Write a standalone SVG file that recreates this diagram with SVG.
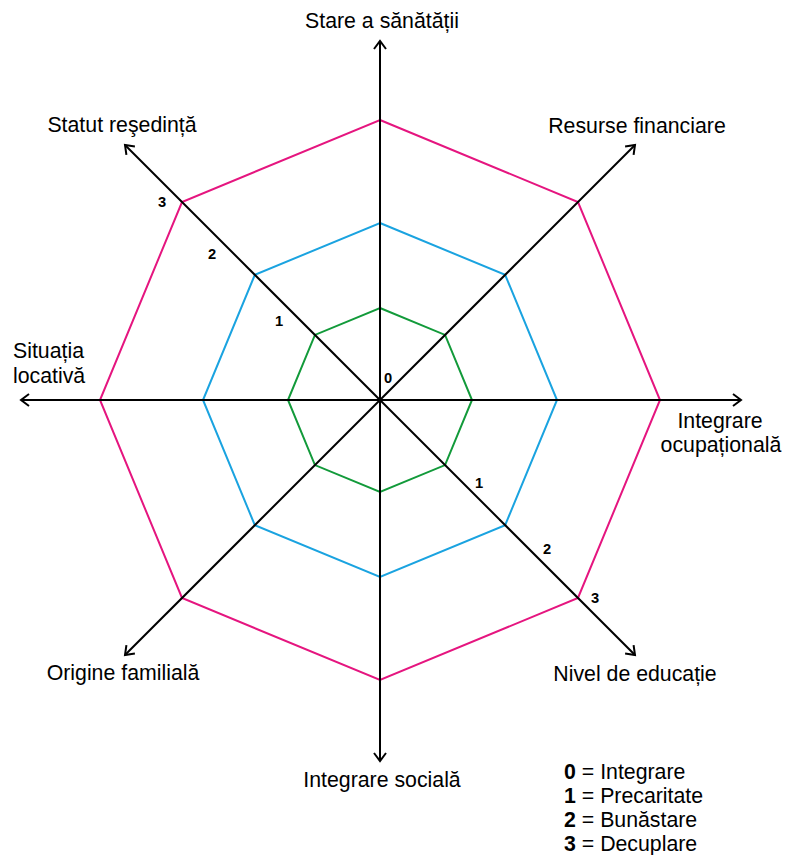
<svg xmlns="http://www.w3.org/2000/svg" width="798" height="855" viewBox="0 0 798 855">
<style>
.ax{stroke:#000;stroke-width:2;fill:none;marker-end:url(#arr)}
.oct{fill:none;stroke-width:2;stroke-linejoin:miter}
.lbl{font-family:"Liberation Sans",Arial,sans-serif;font-size:21.3px;fill:#000}
.num{font-family:"Liberation Sans",Arial,sans-serif;font-size:14.7px;font-weight:bold;fill:#000;text-anchor:middle}
.b{font-weight:bold}
</style>
<defs>
<marker id="arr" markerUnits="userSpaceOnUse" markerWidth="20" markerHeight="20" refX="0" refY="0" viewBox="-12 -10 14 20" orient="auto">
<path d="M-8,-6 L0,0 L-8,6" fill="none" stroke="#000" stroke-width="2"/>
</marker>
</defs>
<rect width="798" height="855" fill="#fff"/>
<g id="octagons">
<polygon id="oct3" class="oct" stroke="#e5157f" points="380,120 577.99,202.01 660,400 577.99,597.99 380,680 182.01,597.99 100,400 182.01,202.01"/>
<polygon id="oct2" class="oct" stroke="#1aa3e0" points="380,223 505.16,274.84 557,400 505.16,525.16 380,577 254.84,525.16 203,400 254.84,274.84"/>
<polygon id="oct1" class="oct" stroke="#129a3a" points="380,308 445.05,334.95 472,400 445.05,465.05 380,492 314.95,465.05 288,400 314.95,334.95"/>
</g>
<g id="connectors">
<line class="ax" x1="380" y1="400" x2="380" y2="41"/>
<line class="ax" x1="380" y1="400" x2="380" y2="761"/>
<line class="ax" x1="380" y1="400" x2="21" y2="400"/>
<line class="ax" x1="380" y1="400" x2="741" y2="400"/>
<line class="ax" x1="380" y1="400" x2="125" y2="145"/>
<line class="ax" x1="380" y1="400" x2="635" y2="145"/>
<line class="ax" x1="380" y1="400" x2="125" y2="655"/>
<line class="ax" x1="380" y1="400" x2="635" y2="655"/>
</g>
<g id="labels">
<text class="lbl" x="382" y="28" text-anchor="middle">Stare a sănătății</text>
<text class="lbl" x="637" y="133" text-anchor="middle">Resurse financiare</text>
<text class="lbl" x="122" y="132" text-anchor="middle">Statut reşedință</text>
<text class="lbl" x="13" y="358">Situația</text>
<text class="lbl" x="13" y="383">locativă</text>
<text class="lbl" x="720" y="428" text-anchor="middle">Integrare</text>
<text class="lbl" x="721" y="452" text-anchor="middle">ocupațională</text>
<text class="lbl" x="635" y="681" text-anchor="middle">Nivel de educație</text>
<text class="lbl" x="123" y="680" text-anchor="middle">Origine familială</text>
<text class="lbl" x="382" y="787" text-anchor="middle">Integrare socială</text>
</g>
<g id="scale">
<text class="num" x="388" y="383">0</text>
<text class="num" x="279" y="326">1</text>
<text class="num" x="212" y="259">2</text>
<text class="num" x="162" y="207">3</text>
<text class="num" x="479" y="488">1</text>
<text class="num" x="547" y="554">2</text>
<text class="num" x="595" y="603">3</text>
</g>
<g id="legend">
<text class="lbl" x="564" y="779"><tspan class="b">0</tspan> = Integrare</text>
<text class="lbl" x="564" y="803"><tspan class="b">1</tspan> = Precaritate</text>
<text class="lbl" x="564" y="827"><tspan class="b">2</tspan> = Bunăstare</text>
<text class="lbl" x="564" y="851"><tspan class="b">3</tspan> = Decuplare</text>
</g>
</svg>
